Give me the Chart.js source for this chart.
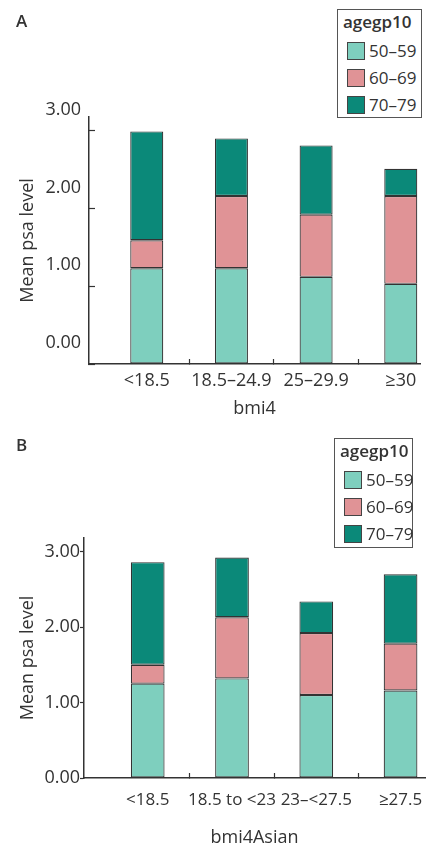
<!DOCTYPE html>
<html>
<head>
<meta charset="utf-8">
<script src="https://cdn.jsdelivr.net/npm/chart.js@4.4.1/dist/chart.umd.min.js"></script>
<style>
  body { margin: 0; background: #fff; font-family: 'Open Sans', sans-serif; color: #333; }
  .panel { position: relative; width: 426px; }
  #panelA { height: 420px; }
  #panelB { height: 429px; }
  .tag { position: absolute; left: 16px; font-size: 17px; font-weight: 600; line-height: 20px; }
  .legend { position: absolute; box-sizing: border-box; border: 1.5px solid #555; background: #fff; padding-top: 1px; white-space: nowrap; }
  .legend .ttl { font-size: 17px; font-weight: 600; line-height: 22px; padding-left: 5px; margin-bottom: 4px; }
  .legend .item { height: 27px; display: flex; align-items: center; font-size: 17px; }
  .legend .sw { flex: none; width: 16px; height: 16px; border: 1px solid #444; margin: 0 4px 0 9px; }
</style>
</head>
<body>
<div class="panel" id="panelA">
  <canvas id="chartA" width="426" height="420"></canvas>
  <div class="tag" style="top:11px">A</div>
  <div class="legend" id="legendA" style="left:337px;top:9px;width:85px;height:109px"></div>
</div>
<div class="panel" id="panelB">
  <canvas id="chartB" width="426" height="429"></canvas>
  <div class="tag" style="top:15px">B</div>
  <div class="legend" id="legendB" style="left:334px;top:18px;width:79px;height:110px"></div>
</div>
<script>
// panel A: bmi4
const bmi4Labels = ['<18.5', '18.5–24.9', '25–29.9', '≥30'];
const bmi4Age5059 = [1.23, 1.23, 1.12, 1.03];
const bmi4Age6069 = [0.36, 0.93, 0.80, 1.13];
const bmi4Age7079 = [1.40, 0.74, 0.89, 0.35];

// panel B: bmi4Asian
const asianLabels = ['<18.5', '18.5 to <23', '23–<27.5', '≥27.5'];
const asianAge5059 = [1.25, 1.32, 1.10, 1.16];
const asianAge6069 = [0.25, 0.81, 0.82, 0.62];
const asianAge7079 = [1.36, 0.79, 0.42, 0.92];

const ageGroups = ['50–59', '60–69', '70–79'];
const ageColors = ['#7ecfbe', '#e09396', '#0b8979'];
const yTickValues = [0, 1, 2, 3];

Chart.defaults.font.family = "'Open Sans', sans-serif";
Chart.defaults.font.size = 18;
Chart.defaults.color = '#333';

function buildLegend(el) {
  el.innerHTML = '<div class="ttl">agegp10</div>' + ageGroups.map((g, i) =>
    '<div class="item"><span class="sw" style="background:' + ageColors[i] + '"></span>' + g + '</div>').join('');
}

function initChart(canvas, labels, series, opt) {
  const data = {
    datasets: series.map((vals, i) => ({
      label: ageGroups[i],
      data: vals.map((v, k) => ({ x: k, y: v })),
      backgroundColor: ageColors[i],
      borderColor: '#333',
      borderWidth: 1.2,
      borderSkipped: false,
      categoryPercentage: 1,
      barPercentage: opt.barPct
    }))
  };

  const config = {
    type: 'bar',
    data: data,
    options: {
      animation: false,
      responsive: false,
      layout: { padding: opt.padding },
      plugins: { legend: { display: false }, tooltip: { enabled: false } },
      scales: {
        x: {
          type: 'linear',
          stacked: true,
          offset: false,
          min: opt.xMin,
          max: opt.xMax,
          afterBuildTicks: (s) => { s.ticks = labels.map((l, k) => ({ value: k })); },
          afterFit: (s) => { s.height = opt.xHeight; },
          ticks: {
            callback: (v) => labels[v],
            padding: 2,
            maxRotation: 0,
            autoSkip: false,
            font: { size: opt.xFont, lineHeight: opt.xLineH + 'px' }
          },
          grid: {
            offset: true,
            drawOnChartArea: false,
            tickLength: -5,
            tickWidth: 1.2,
            tickColor: (c) => (c.index === 0 ? 'rgba(0,0,0,0)' : '#333')
          },
          border: { color: '#333', width: 1.5 },
          title: { display: true, text: opt.xTitle, padding: { top: 0, bottom: opt.xTitleBottom } }
        },
        y: {
          stacked: true,
          min: 0,
          max: opt.yMax,
          afterBuildTicks: (s) => { s.ticks = yTickValues.map((v) => ({ value: v })); },
          afterFit: (s) => { s.width = opt.yWidth; },
          ticks: { callback: (v) => v.toFixed(2), padding: opt.yPad, labelOffset: opt.yLabelOffset },
          grid: { drawOnChartArea: false, tickLength: opt.yTick, tickWidth: 1.2, tickColor: '#333' },
          border: { color: '#333', width: 1.5 },
          title: { display: true, text: 'Mean psa level', padding: { top: 4, bottom: 10 } }
        }
      }
    }
  };

  return new Chart(canvas, config);
}

async function mainEvent() {
  buildLegend(document.getElementById('legendA'));
  buildLegend(document.getElementById('legendB'));

  initChart(document.getElementById('chartA'), bmi4Labels,
    [bmi4Age5059, bmi4Age6069, bmi4Age7079], {
      barPct: 0.39, xMin: -0.682, xMax: 3.227, yMax: 3.175,
      padding: { top: 117, left: 13, right: 6, bottom: 0 },
      xHeight: 56, xLineH: 40, xFont: 18, xTitle: 'bmi4', xTitleBottom: 0,
      yWidth: 76, yPad: 14, yTick: -6, yLabelOffset: -21
    });

  initChart(document.getElementById('chartB'), asianLabels,
    [asianAge5059, asianAge6069, asianAge7079], {
      barPct: 0.40, xMin: -0.756, xMax: 3.29, yMax: 3.18,
      padding: { top: 118, left: 13, right: 1, bottom: 0 },
      xHeight: 71, xLineH: 50, xFont: 17, xTitle: 'bmi4Asian', xTitleBottom: 0,
      yWidth: 71, yPad: 0, yTick: 4, yLabelOffset: 0
    });
}

document.addEventListener('DOMContentLoaded', async () => mainEvent());
</script>
</body>
</html>
